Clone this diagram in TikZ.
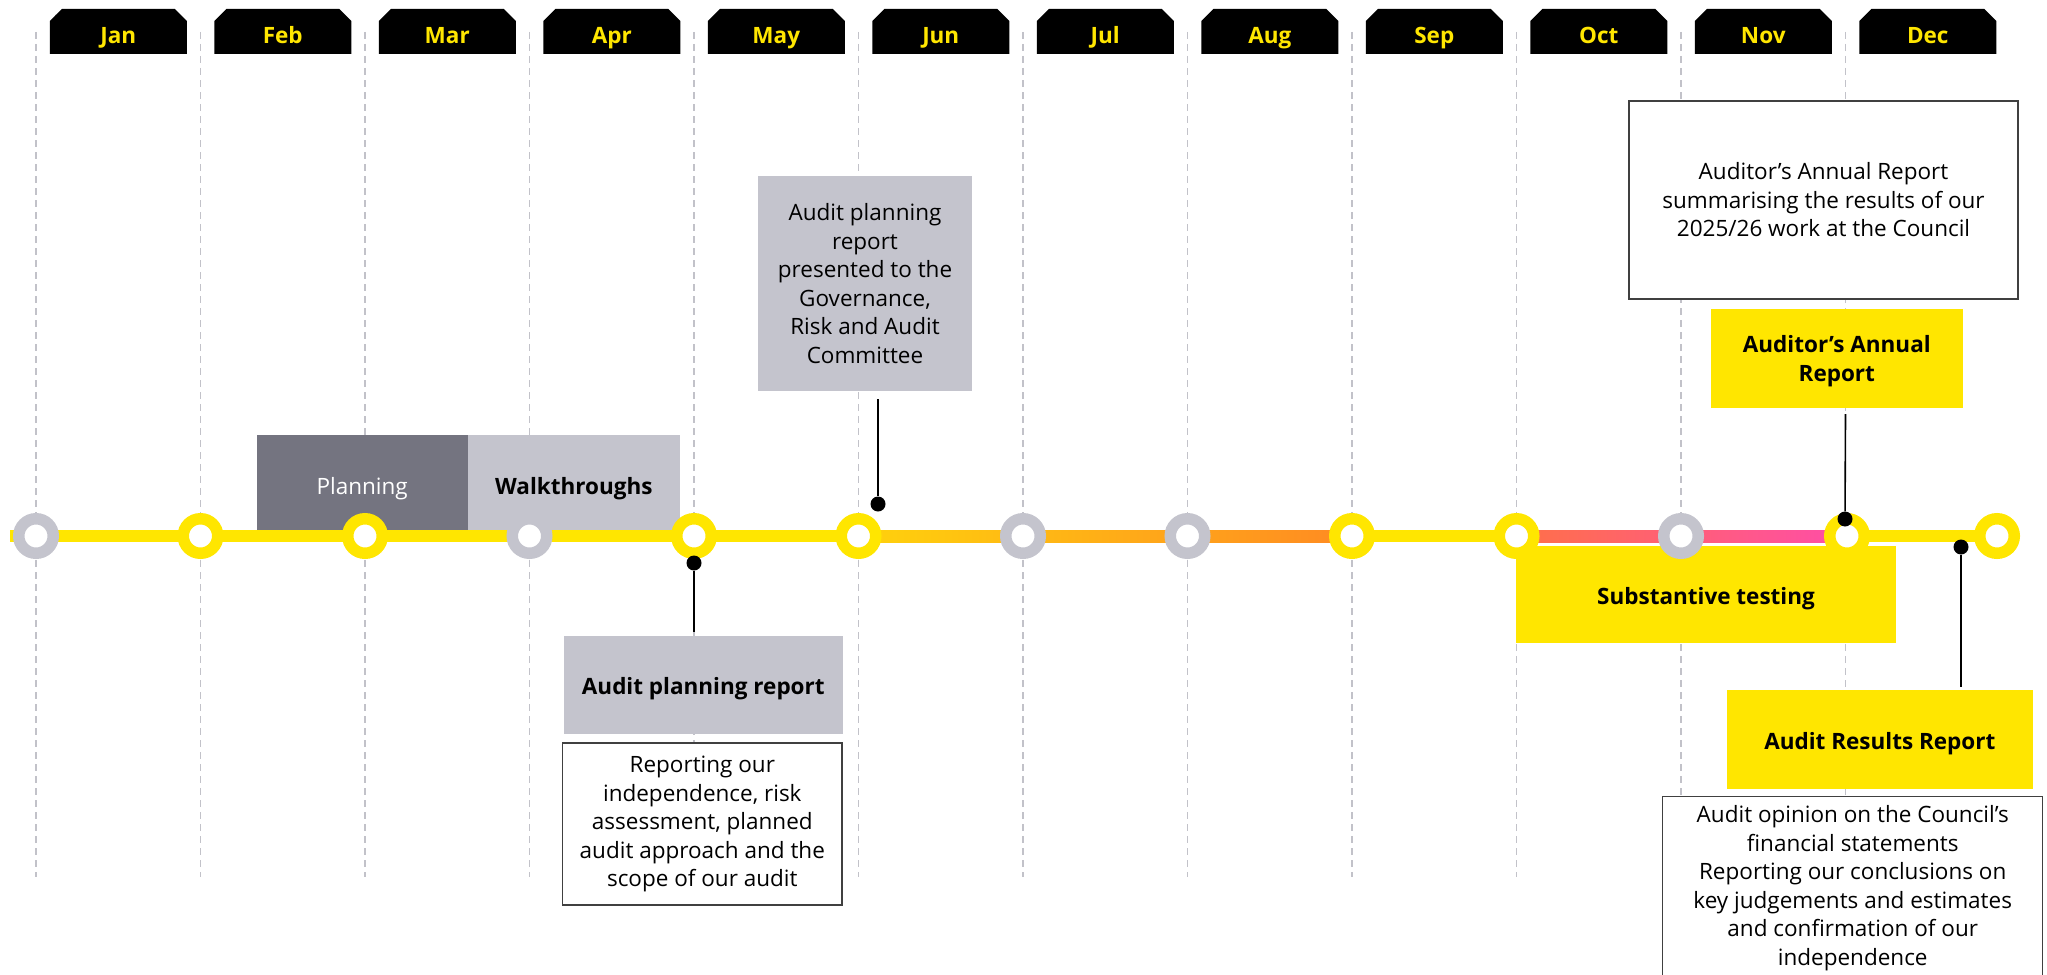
\documentclass[tikz,border=0pt]{standalone}
\usepackage{fontspec}
\setmainfont{Open Sans}
\usetikzlibrary{shapes.misc, backgrounds, calc}

\begin{document}
\begin{tikzpicture}[x=1pt, y=-1pt,
  monthbox/.style={chamfered rectangle, chamfered rectangle corners={north west, north east},
    chamfered rectangle xsep=6pt, chamfered rectangle ysep=6pt, fill=black, text=eyyellow,
    minimum width=137pt, minimum height=45pt, inner sep=0pt, text height=23.5pt, text depth=0pt,
    font=\fontsize{22.5}{28.5}\selectfont\bfseries},
  gridline/.style={eygridgrey, line width=1.3pt, dash pattern=on 7pt off 5pt},
  track/.style={line width=12pt},
  ring/.style={circle, fill=white, line width=11.5pt, minimum size=34.5pt, inner sep=0pt},
  dot/.style={circle, fill=black, minimum size=15pt, inner sep=0pt},
  stem/.style={line width=1.6pt, black},
  card/.style={inner sep=0pt, align=center, font=\fontsize{22.5}{28.5}\selectfont},
  title/.style={card, font=\fontsize{22.5}{28.5}\selectfont\bfseries},
  oneline/.style={text height=19.5pt, text depth=0pt},
  note/.style={card, fill=white, draw=black!75, line width=1.2pt}]

\definecolor{eyyellow}{HTML}{FFE600}
\definecolor{eygrey}{HTML}{C4C4CD}
\definecolor{eydarkgrey}{HTML}{747480}
\definecolor{eygridgrey}{HTML}{C2C2C9}
\definecolor{warmstart}{HTML}{FFD20C}
\definecolor{warmend}{HTML}{FF8A22}
\definecolor{pinkstart}{HTML}{FF7048}
\definecolor{pinkend}{HTML}{FF4DA8}

\useasboundingbox (0,0) rectangle (2047,974);

% month headers
\node[monthbox] (jan) at (118.25,31.5) {Jan};
\node[monthbox] (feb) at (282.75,31.5) {Feb};
\node[monthbox] (mar) at (447.25,31.5) {Mar};
\node[monthbox] (apr) at (611.75,31.5) {Apr};
\node[monthbox] (may) at (776.25,31.5) {May};
\node[monthbox] (jun) at (940.75,31.5) {Jun};
\node[monthbox] (jul) at (1105.25,31.5) {Jul};
\node[monthbox] (aug) at (1269.75,31.5) {Aug};
\node[monthbox] (sep) at (1434.25,31.5) {Sep};
\node[monthbox] (oct) at (1598.75,31.5) {Oct};
\node[monthbox] (nov) at (1763.25,31.5) {Nov};
\node[monthbox] (dec) at (1927.75,31.5) {Dec};

% timeline stops
\node[ring, draw=eygrey] (cjan) at (36,536) {};
\node[ring, draw=eyyellow] (cfeb) at (200.5,536) {};
\node[ring, draw=eyyellow] (cmar) at (365,536) {};
\node[ring, draw=eygrey] (capr) at (529.5,536) {};
\node[ring, draw=eyyellow] (cmay) at (694,536) {};
\node[ring, draw=eyyellow] (cjun) at (858.5,536) {};
\node[ring, draw=eygrey] (cjul) at (1023,536) {};
\node[ring, draw=eygrey] (caug) at (1187.5,536) {};
\node[ring, draw=eyyellow] (csep) at (1352,536) {};
\node[ring, draw=eyyellow] (coct) at (1516.5,536) {};
\node[ring, draw=eygrey] (cnov) at (1681,536) {};
\node[ring, draw=eyyellow] (cdec) at (1847,536) {};
\node[ring, draw=eyyellow] (cend) at (1997,536) {};
\coordinate (start) at (10,536);

\begin{pgfonlayer}{background}
\draw[gridline] (36,32) -- (36,877);
\draw[gridline] (200.5,32) -- (200.5,877);
\draw[gridline] (365,32) -- (365,877);
\draw[gridline] (529.5,32) -- (529.5,877);
\draw[gridline] (694,32) -- (694,877);
\draw[gridline] (858.5,32) -- (858.5,877);
\draw[gridline] (1023,32) -- (1023,877);
\draw[gridline] (1187.5,32) -- (1187.5,877);
\draw[gridline] (1352,32) -- (1352,877);
\draw[gridline] (1516.5,32) -- (1516.5,877);
\draw[gridline] (1681,32) -- (1681,877);
\draw[gridline] (1845.5,32) -- (1845.5,877);

\node[card, oneline, fill=eydarkgrey, text=white, minimum width=211pt, minimum height=100pt] (planning) at (362.2,485) {Planning};
\node[title, oneline, fill=eygrey, minimum width=212.3pt, minimum height=100pt] (walk) at (573.85,485) {Walkthroughs};

\draw[track, eyyellow] (start) -- (cjun.center);
\shade[left color=warmstart, right color=warmend] ($(cjun.center)+(0,-6)$) rectangle ($(csep.center)+(0,6)$);
\draw[track, eyyellow] (csep.center) -- (coct.center);
\shade[left color=pinkstart, right color=pinkend] ($(coct.center)+(0,-6)$) rectangle ($(cdec.center)+(0,6)$);
\draw[track, eyyellow] (cdec.center) -- (cend.center);

\node[title, oneline, fill=eyyellow, minimum width=380pt, minimum height=97pt] (subst) at (1706,594.3) {Substantive testing};
\end{pgfonlayer}

% May / June reports
\node[card, fill=eygrey, minimum width=213.7pt, minimum height=214.7pt] (grac) at (865,283.4)
  {Audit planning\\report\\presented to the\\Governance,\\Risk and Audit\\Committee};
\node[dot] (dotjun) at (878,504) {};
\coordinate (junstem) at (878,399);
\draw[stem] (junstem) -- (dotjun);

\node[title, oneline, fill=eygrey, minimum width=278.7pt, minimum height=98pt] (aplan) at (703.3,685) {Audit planning report};
\node[note, minimum width=279.3pt, minimum height=162pt] (aplannote) at (702.3,824)
  {Reporting our\\independence, risk\\assessment, planned\\audit approach and the\\scope of our audit};
\node[dot] (dotmay) at (694,563) {};
\coordinate (maystem) at (694,632);
\draw[stem] (dotmay) -- (maystem);

% year end reports
\node[note, minimum width=389pt, minimum height=198pt] (aarnote) at (1823.5,200)
  {Auditor’s Annual Report\\summarising the results of our\\2025/26 work at the Council};
\node[title, fill=eyyellow, minimum width=251.7pt, minimum height=98.7pt, text depth=0pt] (aar) at (1836.8,358.3) {Auditor’s Annual\\Report};
\node[dot] (dotdec) at (1845,519) {};
\coordinate (decstem) at (1845.5,414);
\draw[stem] (decstem) -- (dotdec);

\node[dot] (dotres) at (1961,547) {};
\coordinate (resstem) at (1961,687);
\draw[stem] (dotres) -- (resstem);
\node[title, oneline, fill=eyyellow, minimum width=305.7pt, minimum height=98.7pt] (arr) at (1879.8,739.3) {Audit Results Report};
\node[note, minimum width=380pt, minimum height=182.6pt] (arrnote) at (1852.7,888)
  {Audit opinion on the Council’s\\financial statements\\Reporting our conclusions on\\key judgements and estimates\\and confirmation of our\\independence};

\end{tikzpicture}
\end{document}
